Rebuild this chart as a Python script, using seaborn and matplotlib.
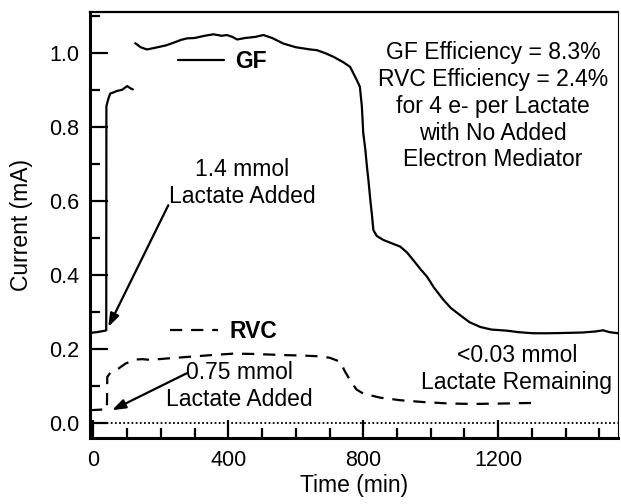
"""
Current vs time for GF and RVC anodes after lactate addition.
"""
import numpy as np
import pandas as pd
import matplotlib
matplotlib.use("Agg")
import matplotlib.pyplot as plt
from matplotlib.ticker import MultipleLocator
import seaborn as sns

# ───────────────────────────── data ───────────────────── #
gf_time_a = [-10, 10, 35, 38, 38.5, 45, 50, 60, 70, 85, 100, 110, 117]
gf_cur_a  = [0.243, 0.245, 0.249, 0.250, 0.856, 0.878, 0.890, 0.893, 0.897,
             0.900, 0.910, 0.904, 0.901]

gf_time_b = [124, 140, 159, 190, 215, 237, 260, 278, 300, 330, 356, 380, 396,
             412, 426, 450, 480, 504, 530, 563, 600, 643, 663, 690, 712, 740,
             761, 781, 790, 796, 800, 806, 811, 816, 821, 826, 830, 840, 860,
             885, 910, 930, 948, 970, 989, 1010, 1038, 1060, 1087, 1115, 1147,
             1180, 1226, 1260, 1304, 1350, 1404, 1450, 1490, 1511, 1530, 1556]
gf_cur_b  = [1.026, 1.015, 1.009, 1.015, 1.020, 1.027, 1.035, 1.039, 1.040,
             1.046, 1.050, 1.046, 1.048, 1.043, 1.036, 1.040, 1.043, 1.048,
             1.040, 1.025, 1.015, 1.009, 1.007, 0.998, 0.989, 0.975, 0.962,
             0.926, 0.908, 0.854, 0.783, 0.740, 0.692, 0.650, 0.602, 0.560,
             0.521, 0.505, 0.494, 0.485, 0.476, 0.460, 0.440, 0.415, 0.395,
             0.365, 0.332, 0.310, 0.291, 0.272, 0.259, 0.252, 0.249, 0.245,
             0.242, 0.242, 0.243, 0.244, 0.247, 0.250, 0.245, 0.242]

rvc_time = [-10, 10, 30, 40, 41, 50, 75, 95, 124, 145, 169, 220, 278, 350, 416,
            480, 563, 613, 663, 700, 732, 745, 761, 780, 800, 850, 910, 980,
            1058, 1130, 1206, 1260, 1315]
rvc_cur  = [0.034, 0.035, 0.036, 0.036, 0.124, 0.135, 0.147, 0.160, 0.171,
            0.172, 0.170, 0.174, 0.178, 0.183, 0.187, 0.186, 0.183, 0.182,
            0.180, 0.176, 0.165, 0.140, 0.115, 0.090, 0.079, 0.068, 0.061,
            0.056, 0.052, 0.051, 0.052, 0.053, 0.054]

EFF_TEXT    = ("GF Efficiency = 8.3%\nRVC Efficiency = 2.4%\nfor 4 e- per Lactate\n"
               "with No Added\nElectron Mediator")
GF_NOTE     = "1.4 mmol\nLactate Added"
RVC_NOTE    = "0.75 mmol\nLactate Added"
REMAIN_NOTE = "<0.03 mmol\nLactate Remaining"

# ───────────────────────────── frames ───────────────────── #
gf = pd.concat([
    pd.DataFrame({"time": gf_time_a, "current": gf_cur_a, "seg": 0}),
    pd.DataFrame({"time": gf_time_b, "current": gf_cur_b, "seg": 1}),
], ignore_index=True)
rvc = pd.DataFrame({"time": rvc_time, "current": rvc_cur, "seg": 0})

# ───────────────────────────── style ───────────────────── #
sns.set_style("ticks")
plt.rcParams["font.family"] = ["Liberation Sans", "DejaVu Sans"]
plt.rcParams.update({"text.color": "black", "axes.labelcolor": "black",
                     "xtick.color": "black", "ytick.color": "black"})
FS = 16.5

fig = plt.figure(figsize=(6.21, 5.04), dpi=100)
ax = fig.add_axes([0.145, 0.131, 0.850, 0.845])

sns.lineplot(data=gf, x="time", y="current", units="seg", estimator=None,
             color="black", lw=1.6, ax=ax)
gf_lines = list(ax.lines)
sns.lineplot(data=rvc, x="time", y="current", units="seg", estimator=None,
             color="black", lw=1.6, ax=ax)
rvc_line = ax.lines[-1]
rvc_line.set_dashes((5.5, 4))

ax.axhline(0, color="black", lw=1.3, ls=(0, (1, 1.3)))

ax.set_xlim(-10, 1555)
ax.set_ylim(-0.041, 1.11)
ax.xaxis.set_major_locator(MultipleLocator(400))
ax.xaxis.set_minor_locator(MultipleLocator(100))
ax.yaxis.set_major_locator(MultipleLocator(0.2))
ax.yaxis.set_minor_locator(MultipleLocator(0.1))
ax.yaxis.set_major_formatter(plt.FuncFormatter(lambda v, p: f"{v:.1f}"))

ax.tick_params(which="both", direction="in", width=1.6, color="black",
               labelsize=15.5, labelcolor="black", top=False, right=False)
ax.tick_params(which="major", length=13)
ax.tick_params(which="minor", length=7)
ax.tick_params(axis="x", pad=9)
ax.tick_params(axis="y", pad=8)

for side, lw in [("left", 2.2), ("bottom", 2.2), ("top", 1.6), ("right", 0.8)]:
    ax.spines[side].set_visible(True)
    ax.spines[side].set_linewidth(lw)
    ax.spines[side].set_color("black")

ax.set_xlabel("Time (min)", fontsize=FS)
ax.set_ylabel("Current (mA)", fontsize=FS)
ax.xaxis.set_label_coords(0.5, -0.085)
ax.yaxis.set_label_coords(-0.108, 0.5)

# legends placed next to their own curves
leg_kw = dict(loc="center left", frameon=False, borderpad=0, borderaxespad=0,
              handletextpad=0.5, prop={"size": FS, "weight": "bold"})
leg_gf = ax.legend([gf_lines[0]], ["GF"], bbox_to_anchor=(0.167, 0.883),
                   handlelength=2.0, **leg_kw)
ax.add_artist(leg_gf)
ax.legend([rvc_line], ["RVC"], bbox_to_anchor=(0.152, 0.251),
          handlelength=2.1, **leg_kw)

# notes
ax.text(1185, 0.856, EFF_TEXT, ha="center", va="center", fontsize=FS,
        linespacing=1.22)
ax.text(440, 0.648, GF_NOTE, ha="center", va="center", fontsize=FS,
        linespacing=1.22)
ax.text(433, 0.099, RVC_NOTE, ha="center", va="center", fontsize=FS,
        linespacing=1.22)
ax.text(1255, 0.145, REMAIN_NOTE, ha="center", va="center", fontsize=FS,
        linespacing=1.22)

arrow = dict(arrowstyle="-|>,head_length=0.8,head_width=0.28", color="black",
             lw=1.6, shrinkA=0, shrinkB=0)
ax.annotate("", xy=(44, 0.259), xytext=(222, 0.588), arrowprops=arrow)
ax.annotate("", xy=(55, 0.034), xytext=(277, 0.134), arrowprops=arrow)

fig.savefig("out.png", dpi=100)
